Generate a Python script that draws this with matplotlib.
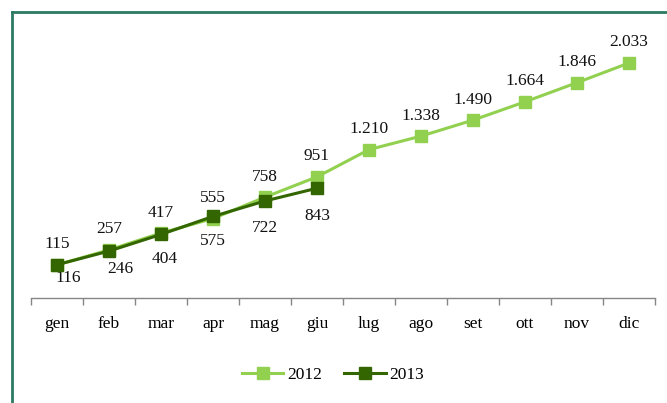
import matplotlib
matplotlib.use("Agg")
import matplotlib.pyplot as plt
from matplotlib.lines import Line2D

plt.rcParams["font.family"] = ["Liberation Serif", "DejaVu Serif"]

months = ["gen", "feb", "mar", "apr", "mag", "giu", "lug", "ago", "set", "ott", "nov", "dic"]
values_2012 = [115, 257, 417, 555, 758, 951, 1210, 1338, 1490, 1664, 1846, 2033]
values_2013 = [116, 246, 404, 575, 722, 843]
labels_2012 = ["115", "257", "417", "555", "758", "951", "1.210", "1.338", "1.490", "1.664", "1.846", "2.033"]
labels_2013 = ["116", "246", "404", "575", "722", "843"]

LIGHT = "#92d050"
DARK = "#336600"
FS = 12.5

fig = plt.figure(figsize=(6.67, 4.03), dpi=100)
ax = fig.add_axes([31 / 667, 1 - 298 / 403, 624 / 667, (298 - 45.4) / 403])

x12 = list(range(len(values_2012)))
x13 = list(range(len(values_2013)))
ax.plot(x12, values_2012, color=LIGHT, lw=2.2, marker="s", ms=8.5, zorder=3)
ax.plot(x13, values_2013, color=DARK, lw=2.2, marker="s", ms=8.5, zorder=4)

for x, v, t in zip(x12, values_2012, labels_2012):
    ax.annotate(t, (x, v), xytext=(0, 9), textcoords="offset points",
                ha="center", va="bottom", fontsize=FS, color="#111111", annotation_clip=False)

# first two labels of 2013 sit a bit to the right, as in the original
nudge = [(8, -4), (8, -7), (3, -12), (0, -12), (0, -14), (0, -14)]
for x, v, t, (dx, dy) in zip(x13, values_2013, labels_2013, nudge):
    ax.annotate(t, (x, v), xytext=(dx, dy), textcoords="offset points",
                ha="center", va="top", fontsize=FS, color="#111111", annotation_clip=False)

ax.set_xlim(-0.5, len(months) - 0.5)
ax.set_ylim(-200, 2200)
ax.set_xticks(x12, labels=months, fontsize=FS)
ax.set_xticks([i - 0.5 for i in range(len(months) + 1)], minor=True)
ax.tick_params(axis="x", which="major", length=0, pad=13)
ax.tick_params(axis="x", which="minor", length=5, color="#868686", width=1)
ax.set_yticks([])
for side in ["left", "right", "top"]:
    ax.spines[side].set_visible(False)
ax.spines["bottom"].set_color("#868686")
ax.spines["bottom"].set_linewidth(1)
ax.patch.set_alpha(0)

handles = [
    Line2D([], [], color=LIGHT, lw=2.2, marker="s", ms=8.5),
    Line2D([], [], color=DARK, lw=2.2, marker="s", ms=8.5),
]
fig.legend(handles, ["2012", "2013"], loc="center", bbox_to_anchor=(333 / 667, 1 - 375 / 403),
           ncol=2, frameon=False, fontsize=FS, handlelength=2.4, columnspacing=1.3,
           handletextpad=0.2)

# frame lines on top and left
border = "#2d7a62"
fig.add_artist(Line2D([12 / 667, 1], [1 - 12 / 403] * 2, color=border, lw=2, transform=fig.transFigure))
fig.add_artist(Line2D([12 / 667] * 2, [0, 1 - 12 / 403], color=border, lw=2, transform=fig.transFigure))

fig.savefig("out.png", dpi=100)
